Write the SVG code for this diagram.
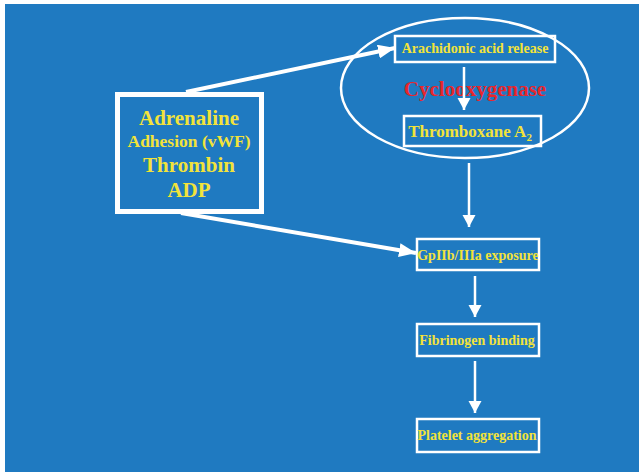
<svg xmlns="http://www.w3.org/2000/svg" width="639" height="474" viewBox="0 0 639 474">
  <defs>
    <style>
      .box { fill: none; stroke: #ffffff; stroke-width: 2.5; }
      .lbl { font-family: "Liberation Serif", "Times New Roman", serif; font-weight: bold; fill: #f2e33a; text-anchor: middle; }
      .link { stroke: #ffffff; fill: none; }
    </style>
    <marker id="headBig" markerUnits="userSpaceOnUse" markerWidth="18" markerHeight="14" refX="17" refY="7" orient="auto">
      <path d="M0,0 L17,7 L0,14 z" fill="#ffffff"/>
    </marker>
    <marker id="headSmall" markerUnits="userSpaceOnUse" markerWidth="14" markerHeight="14" refX="12" refY="6.5" orient="auto">
      <path d="M0,0 L12,6.5 L0,13 z" fill="#ffffff"/>
    </marker>
  </defs>

  <rect x="0" y="0" width="639" height="474" fill="#ffffff"/>
  <rect x="5" y="4" width="634" height="468" fill="#1f7ac1"/>

  <g id="cox-ellipse">
    <ellipse cx="465" cy="88" rx="124" ry="70" fill="none" stroke="#ffffff" stroke-width="2.5"/>
    <text x="475" y="96" font-family="Liberation Serif, serif" font-weight="bold" font-size="21" fill="#e8262c" text-anchor="middle">Cyclooxygenase</text>
  </g>

  <g id="agonists">
    <rect x="117.5" y="94.5" width="144" height="117" fill="none" stroke="#ffffff" stroke-width="5"/>
    <text class="lbl" x="189" y="125" font-size="21">Adrenaline</text>
    <text class="lbl" x="189" y="147" font-size="17.5">Adhesion (vWF)</text>
    <text class="lbl" x="189" y="172" font-size="21">Thrombin</text>
    <text class="lbl" x="189" y="197" font-size="21">ADP</text>
  </g>

  <g id="arachidonic">
    <rect class="box" x="395" y="36" width="160" height="26"/>
    <text class="lbl" x="475" y="53" font-size="14">Arachidonic acid release</text>
  </g>

  <g id="thromboxane">
    <rect class="box" x="404" y="116" width="137" height="30"/>
    <text class="lbl" x="470" y="137" font-size="17">Thromboxane A<tspan font-size="11" dy="4">2</tspan></text>
  </g>

  <g id="gpiib">
    <rect class="box" x="417" y="239" width="122" height="31"/>
    <text class="lbl" x="478" y="260" font-size="14">GpIIb/IIIa exposure</text>
  </g>

  <g id="fibrinogen">
    <rect class="box" x="417" y="324" width="122" height="32"/>
    <text class="lbl" x="477" y="345" font-size="14">Fibrinogen binding</text>
  </g>

  <g id="platelet">
    <rect class="box" x="417" y="419" width="122" height="33"/>
    <text class="lbl" x="477" y="440" font-size="14">Platelet aggregation</text>
  </g>

  <g id="connectors">
    <line class="link" x1="186" y1="92" x2="395" y2="48" stroke-width="4" marker-end="url(#headBig)"/>
    <line class="link" x1="181" y1="213" x2="416" y2="253" stroke-width="4" marker-end="url(#headBig)"/>
    <line class="link" x1="464" y1="67" x2="464" y2="110" stroke-width="2.5" marker-end="url(#headSmall)"/>
    <line class="link" x1="469" y1="163" x2="469" y2="227" stroke-width="2.5" marker-end="url(#headSmall)"/>
    <line class="link" x1="475" y1="276" x2="475" y2="317" stroke-width="2.5" marker-end="url(#headSmall)"/>
    <line class="link" x1="475" y1="361" x2="475" y2="413" stroke-width="2.5" marker-end="url(#headSmall)"/>
  </g>
</svg>
